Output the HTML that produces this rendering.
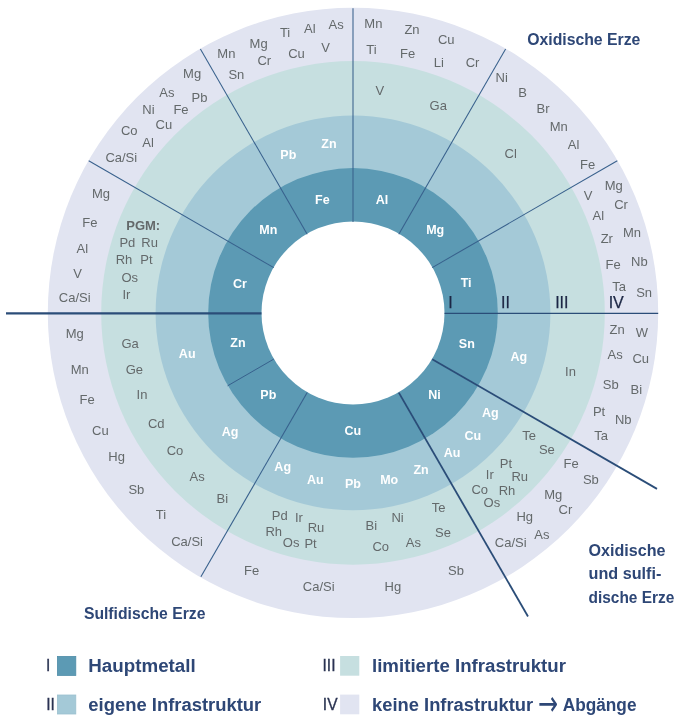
<!DOCTYPE html>
<html lang="de"><head><meta charset="utf-8"><title>Metallrad</title>
<style>
html,body{margin:0;padding:0;background:#fff;}
body{width:685px;height:724px;overflow:hidden;}
svg{display:block;font-family:"Liberation Sans",sans-serif;}
.g{fill:#64696b;font-size:13px;}
.w{fill:#fff;font-size:12.5px;font-weight:bold;}
.v{fill:#eef6f9;font-size:12.5px;}
.t{fill:#2d4676;font-size:17px;font-weight:bold;}
.r{fill:#1c2745;font-size:16px;stroke:#1c2745;stroke-width:0.25px;}
.l{fill:#2d4676;font-size:18px;font-weight:bold;}
.b{font-weight:bold;}
.n{fill:#2b3452;font-size:15.6px;stroke:#2b3452;stroke-width:0.3px;}
.a{font-family:"DejaVu Sans",sans-serif;font-weight:normal;font-size:24px;fill:#2d4676;}
text{text-anchor:middle;}
.s{text-anchor:start;}
</style></head><body>
<svg width="685" height="724" viewBox="0 0 685 724">
<defs><filter id="b" x="-5%" y="-5%" width="110%" height="110%"><feGaussianBlur stdDeviation="0.45"/></filter><filter id="c" x="0" y="0" width="100%" height="100%"><feGaussianBlur stdDeviation="0.35"/></filter></defs>
<g filter="url(#b)">
<circle cx="353.0" cy="312.9" r="305.2" fill="#e1e4f1"/>
<circle cx="353.0" cy="312.9" r="251.8" fill="#c6dfe0"/>
<circle cx="353.0" cy="312.9" r="197.4" fill="#a4c9d7"/>
<circle cx="353.0" cy="312.9" r="144.8" fill="#5b9ab4"/>
<circle cx="353.0" cy="312.9" r="91.5" fill="#fff"/>
<line x1="353.0" y1="221.9" x2="353.0" y2="8.2" stroke="#38608c" stroke-width="1.05"/>
<line x1="398.8" y1="234.2" x2="505.6" y2="49.1" stroke="#38608c" stroke-width="1.05"/>
<line x1="432.2" y1="267.6" x2="617.3" y2="160.8" stroke="#38608c" stroke-width="1.05"/>
<line x1="307.2" y1="234.2" x2="200.4" y2="49.1" stroke="#38608c" stroke-width="1.05"/>
<line x1="273.8" y1="267.6" x2="88.7" y2="160.8" stroke="#38608c" stroke-width="1.05"/>
<line x1="444.5" y1="313.4" x2="658.2" y2="313.4" stroke="#2b4d78" stroke-width="1.2"/>
<line x1="6" y1="313.4" x2="261.5" y2="313.4" stroke="#2b4d78" stroke-width="2.1"/>
<line x1="273.8" y1="359.1" x2="227.6" y2="385.8" stroke="#38608c" stroke-width="1.0"/>
<line x1="307.2" y1="392.6" x2="200.9" y2="576.8" stroke="#38608c" stroke-width="1.1"/>
<line x1="398.8" y1="392.6" x2="528.0" y2="616.5" stroke="#2b4d78" stroke-width="1.8"/>
<line x1="432.2" y1="359.2" x2="657.0" y2="488.9" stroke="#2b4d78" stroke-width="1.8"/>
</g>
<g filter="url(#c)">
<text class="g" x="226.4" y="58.3">Mn</text>
<text class="g" x="258.6" y="47.5">Mg</text>
<text class="g" x="264.3" y="65.0">Cr</text>
<text class="g" x="236.4" y="78.7">Sn</text>
<text class="g" x="285.1" y="37.4">Ti</text>
<text class="g" x="309.9" y="33.1">Al</text>
<text class="g" x="336.1" y="29.4">As</text>
<text class="g" x="296.5" y="57.6">Cu</text>
<text class="g" x="325.7" y="51.5">V</text>
<text class="g" x="192.1" y="77.7">Mg</text>
<text class="g" x="166.9" y="97.2">As</text>
<text class="g" x="199.5" y="101.9">Pb</text>
<text class="g" x="148.5" y="114.0">Ni</text>
<text class="g" x="181.0" y="114.0">Fe</text>
<text class="g" x="163.9" y="128.8">Cu</text>
<text class="g" x="129.3" y="134.8">Co</text>
<text class="g" x="148.1" y="146.9">Al</text>
<text class="g" x="121.3" y="162.4">Ca/Si</text>
<text class="g" x="101.0" y="197.5">Mg</text>
<text class="g" x="89.9" y="226.5">Fe</text>
<text class="g" x="82.4" y="252.7">Al</text>
<text class="g" x="77.7" y="277.9">V</text>
<text class="g" x="74.7" y="302.1">Ca/Si</text>
<text class="g" x="127.4" y="247.0">Pd</text>
<text class="g" x="149.6" y="247.0">Ru</text>
<text class="g" x="124.0" y="264.4">Rh</text>
<text class="g" x="146.5" y="264.4">Pt</text>
<text class="g" x="129.7" y="281.9">Os</text>
<text class="g" x="126.4" y="299.4">Ir</text>
<text class="g" x="373.4" y="28.4">Mn</text>
<text class="g" x="412" y="34.1">Zn</text>
<text class="g" x="446.3" y="43.5">Cu</text>
<text class="g" x="371.4" y="54.2">Ti</text>
<text class="g" x="407.6" y="58.3">Fe</text>
<text class="g" x="438.9" y="67.0">Li</text>
<text class="g" x="379.8" y="94.5">V</text>
<text class="g" x="438.2" y="110.3">Ga</text>
<text class="g" x="472.5" y="66.7">Cr</text>
<text class="g" x="501.7" y="82.1">Ni</text>
<text class="g" x="522.5" y="96.9">B</text>
<text class="g" x="543" y="113.3">Br</text>
<text class="g" x="558.8" y="130.8">Mn</text>
<text class="g" x="573.5" y="148.9">Al</text>
<text class="g" x="587.6" y="169.4">Fe</text>
<text class="g" x="510.7" y="158.0">Cl</text>
<text class="g" x="613.8" y="190.2">Mg</text>
<text class="g" x="588" y="199.6">V</text>
<text class="g" x="621" y="208.5">Cr</text>
<text class="g" x="598.4" y="220.0">Al</text>
<text class="g" x="632" y="237.0">Mn</text>
<text class="g" x="606.8" y="243.0">Zr</text>
<text class="g" x="613.2" y="269.3">Fe</text>
<text class="g" x="639.4" y="266.0">Nb</text>
<text class="g" x="619.2" y="290.5">Ta</text>
<text class="g" x="644.1" y="297.2">Sn</text>
<text class="g" x="74.7" y="337.7">Mg</text>
<text class="g" x="130.1" y="348.4">Ga</text>
<text class="g" x="79.7" y="374.3">Mn</text>
<text class="g" x="134.4" y="374.3">Ge</text>
<text class="g" x="87.1" y="403.9">Fe</text>
<text class="g" x="142" y="398.9">In</text>
<text class="g" x="100.4" y="435.2">Cu</text>
<text class="g" x="156.2" y="428.2">Cd</text>
<text class="g" x="116.6" y="461.1">Hg</text>
<text class="g" x="175" y="455.0">Co</text>
<text class="g" x="136.4" y="493.7">Sb</text>
<text class="g" x="197.2" y="481.2">As</text>
<text class="g" x="160.9" y="519.2">Ti</text>
<text class="g" x="222.3" y="503.1">Bi</text>
<text class="g" x="187.1" y="545.7">Ca/Si</text>
<text class="g" x="251.7" y="575.3">Fe</text>
<text class="g" x="438.6" y="511.7">Te</text>
<text class="g" x="279.7" y="519.9">Pd</text>
<text class="g" x="298.9" y="522.2">Ir</text>
<text class="g" x="316" y="531.6">Ru</text>
<text class="g" x="273.7" y="535.6">Rh</text>
<text class="g" x="291.1" y="547.4">Os</text>
<text class="g" x="310.6" y="548.4">Pt</text>
<text class="g" x="371.4" y="530.3">Bi</text>
<text class="g" x="397.6" y="522.2">Ni</text>
<text class="g" x="380.8" y="551.1">Co</text>
<text class="g" x="413.4" y="546.7">As</text>
<text class="g" x="443" y="536.5">Se</text>
<text class="g" x="318.7" y="591.4">Ca/Si</text>
<text class="g" x="392.9" y="591.4">Hg</text>
<text class="g" x="456" y="575.2">Sb</text>
<text class="g" x="570.5" y="375.8">In</text>
<text class="g" x="617.2" y="334.1">Zn</text>
<text class="g" x="642" y="336.5">W</text>
<text class="g" x="615.2" y="359.0">As</text>
<text class="g" x="640.7" y="362.7">Cu</text>
<text class="g" x="610.8" y="388.5">Sb</text>
<text class="g" x="636.3" y="393.6">Bi</text>
<text class="g" x="599.1" y="415.5">Pt</text>
<text class="g" x="623.2" y="423.5">Nb</text>
<text class="g" x="529.2" y="440.3">Te</text>
<text class="g" x="601.2" y="440.3">Ta</text>
<text class="g" x="546.9" y="453.6">Se</text>
<text class="g" x="571.1" y="467.7">Fe</text>
<text class="g" x="590.9" y="483.8">Sb</text>
<text class="g" x="506" y="467.7">Pt</text>
<text class="g" x="489.8" y="478.7">Ir</text>
<text class="g" x="519.7" y="481.1">Ru</text>
<text class="g" x="479.8" y="493.5">Co</text>
<text class="g" x="507" y="495.2">Rh</text>
<text class="g" x="491.9" y="506.9">Os</text>
<text class="g" x="553.3" y="498.9">Mg</text>
<text class="g" x="565.4" y="513.7">Cr</text>
<text class="g" x="524.8" y="521.4">Hg</text>
<text class="g" x="541.9" y="538.8">As</text>
<text class="g" x="510.7" y="547.2">Ca/Si</text>
<text class="w" x="329" y="147.7">Zn</text>
<text class="w" x="288.3" y="158.8">Pb</text>
<text class="w" x="322.4" y="203.8">Fe</text>
<text class="w" x="382.1" y="203.8">Al</text>
<text class="w" x="268.3" y="234.3">Mn</text>
<text class="w" x="435.2" y="234.3">Mg</text>
<text class="w" x="239.9" y="288.1">Cr</text>
<text class="w" x="187.2" y="357.7">Au</text>
<text class="w" x="237.9" y="346.9">Zn</text>
<text class="w" x="230.1" y="436.1">Ag</text>
<text class="w" x="268.3" y="399.2">Pb</text>
<text class="w" x="434.5" y="399.2">Ni</text>
<text class="w" x="352.9" y="435.1">Cu</text>
<text class="w" x="282.7" y="471.4">Ag</text>
<text class="w" x="315.3" y="484.1">Au</text>
<text class="w" x="352.9" y="488.2">Pb</text>
<text class="w" x="389.2" y="484.1">Mo</text>
<text class="w" x="421.1" y="474.1">Zn</text>
<text class="w" x="452.1" y="457.2">Au</text>
<text class="w" x="466.1" y="286.6">Ti</text>
<text class="w" x="466.8" y="347.8">Sn</text>
<text class="w" x="518.8" y="361.2">Ag</text>
<text class="w" x="490.4" y="417.4">Ag</text>
<text class="w" x="472.8" y="439.5">Cu</text>
<text class="g b" x="143.2" y="229.8">PGM:</text>
<text class="r" x="450.6" y="308.2">I</text>
<text class="r" x="505.4" y="308.2">II</text>
<text class="r" x="561.8" y="308.2">III</text>
<text class="r" x="616.2" y="308.2">IV</text>
<text class="t s" x="527.2" y="44.8" textLength="113.2" lengthAdjust="spacingAndGlyphs">Oxidische Erze</text>
<text class="t s" x="83.9" y="619.3" textLength="121.5" lengthAdjust="spacingAndGlyphs">Sulfidische Erze</text>
<text class="t s" x="588.5" y="555.5" textLength="77" lengthAdjust="spacingAndGlyphs">Oxidische</text>
<text class="t s" x="588.5" y="579.3" textLength="72.8" lengthAdjust="spacingAndGlyphs">und sulfi-</text>
<text class="t s" x="588.5" y="602.9" textLength="85.8" lengthAdjust="spacingAndGlyphs">dische Erze</text>
<rect x="57.4" y="656.4" width="18.4" height="19" fill="#5b9ab4" stroke="#4f8ea9" stroke-width="0.8"/>
<rect x="57.4" y="695" width="18.4" height="19" fill="#a4c9d7" stroke="#9bc1cf" stroke-width="0.8"/>
<rect x="340.1" y="656" width="19.2" height="19.7" fill="#c6dfe0"/>
<rect x="340.1" y="694.6" width="19.2" height="19.7" fill="#e1e4f1"/>
<text class="n" x="48.2" y="670.6">I</text>
<text class="n" x="50.5" y="709.5">II</text>
<text class="n" x="329" y="670.5">III</text>
<text class="n" x="330.2" y="709.6">IV</text>
<text class="l s" x="88.3" y="672.2" textLength="107.4" lengthAdjust="spacingAndGlyphs">Hauptmetall</text>
<text class="l s" x="88.3" y="710.6" textLength="173" lengthAdjust="spacingAndGlyphs">eigene Infrastruktur</text>
<text class="l s" x="372" y="672.2" textLength="194" lengthAdjust="spacingAndGlyphs">limitierte Infrastruktur</text>
<text class="l s" x="372" y="710.6" textLength="161.2" lengthAdjust="spacingAndGlyphs">keine Infrastruktur</text>
<text class="a s" transform="translate(538,715.2) scale(1,1.42)" x="0" y="0">→</text>
<text class="l s" x="562.7" y="710.6" textLength="73.8" lengthAdjust="spacingAndGlyphs">Abgänge</text>

</g>
</svg></body></html>
